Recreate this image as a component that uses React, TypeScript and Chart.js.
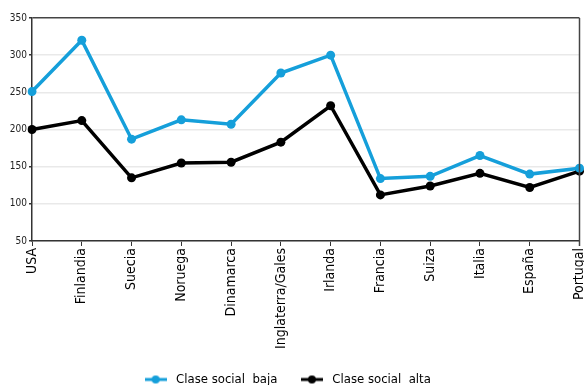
import React, { useEffect, useRef } from "react";
import { Chart, registerables } from "chart.js";
Chart.register(...registerables);

const categories = ["USA", "Finlandia", "Suecia", "Noruega", "Dinamarca", "Inglaterra/Gales", "Irlanda", "Francia", "Suiza", "Italia", "España", "Portugal"];
const claseBaja = [251, 320, 187, 213, 207, 276, 300, 134, 137, 165, 140, 148];
const claseAlta = [200, 212, 135, 155, 156, 183, 232, 112, 124, 141, 122, 144];
const yTicks = [50, 100, 150, 200, 250, 300, 350];

const BLUE = "#159fda";
const BLACK = "#000000";
const FONT = "'Liberation Sans Narrow', 'DejaVu Sans Condensed', 'Noto Sans', sans-serif";

function legendIcon(color: string) {
  const c = document.createElement("canvas");
  c.width = 22;
  c.height = 10;
  const g = c.getContext("2d")!;
  g.strokeStyle = color;
  g.lineWidth = 3;
  g.beginPath();
  g.moveTo(0, 5);
  g.lineTo(22, 5);
  g.stroke();
  g.fillStyle = color;
  g.beginPath();
  g.arc(11, 5, 4, 0, Math.PI * 2);
  g.fill();
  return c;
}

const frame = {
  id: "frame",
  afterDraw(chart: any) {
    const { ctx, chartArea } = chart;
    ctx.save();
    ctx.strokeStyle = "#444";
    ctx.lineWidth = 1.5;
    ctx.beginPath();
    ctx.moveTo(chartArea.right, chartArea.top);
    ctx.lineTo(chartArea.right, chartArea.bottom + 5);
    ctx.stroke();
    ctx.restore();
  },
};

export default function App() {
  const ref = useRef<HTMLCanvasElement>(null);
  useEffect(() => {
    document.body.style.margin = "0";
    const icons = [legendIcon(BLUE), legendIcon(BLACK)];
    const chart = new Chart(ref.current!, {
      type: "line",
      data: {
        labels: categories,
        datasets: [
          { label: "Clase social  baja", data: claseBaja, borderColor: BLUE, backgroundColor: BLUE, borderWidth: 3.5, pointRadius: 4.5, pointBackgroundColor: BLUE, pointBorderWidth: 0, tension: 0 },
          { label: "Clase social  alta", data: claseAlta, borderColor: BLACK, backgroundColor: BLACK, borderWidth: 3.5, pointRadius: 4.5, pointBackgroundColor: BLACK, pointBorderWidth: 0, tension: 0 },
        ],
      },
      options: {
        animation: false,
        responsive: false,
        layout: { padding: { top: 18, right: 4, left: 0, bottom: -11 } },
        plugins: {
          tooltip: { enabled: false },
          legend: {
            position: "bottom",
            labels: {
              usePointStyle: true,
              font: { family: FONT, size: 13 },
              color: "#111",
              padding: 2,
              generateLabels: (ch: any) =>
                ch.data.datasets.map((d: any, i: number) => ({
                  text: "  " + d.label + (i === 0 ? "       " : ""),
                  pointStyle: icons[i],
                  fillStyle: d.borderColor,
                  strokeStyle: d.borderColor,
                  lineWidth: 0,
                  datasetIndex: i,
                  hidden: false,
                })),
            },
          },
        },
        scales: {
          x: {
            offset: false,
            afterFit: (s: any) => { s.height = 130; s.paddingRight = 0; s.paddingLeft = 0; },
            grid: { drawOnChartArea: false, drawTicks: true, tickLength: 5, color: "#333", lineWidth: 1 },
            border: { color: "#333", width: 1.5 },
            ticks: { maxRotation: 90, minRotation: 90, autoSkip: false, color: "#000", font: { family: FONT, size: 14 }, padding: 2 },
          },
          y: {
            min: 50,
            max: 350,
            afterBuildTicks: (s: any) => { s.ticks = yTicks.map((v) => ({ value: v })); },
            afterFit: (s: any) => { s.width = 32; s.paddingTop = 0; },
            grid: {
              color: (c: any) => (c.tick && c.tick.value === 350 ? "#444" : "#e9e9e9"),
              lineWidth: 1.5,
              tickLength: 3,
              tickColor: "#333",
            },
            border: { color: "#333", width: 1.5 },
            ticks: { color: "#222", font: { family: FONT, size: 10 }, padding: 2 },
          },
        },
      } as any,
      plugins: [frame],
    });
    return () => chart.destroy();
  }, []);
  return (
    <div style={{ width: 584, height: 385 }}>
      <canvas ref={ref} width={584} height={385} />
    </div>
  );
}
